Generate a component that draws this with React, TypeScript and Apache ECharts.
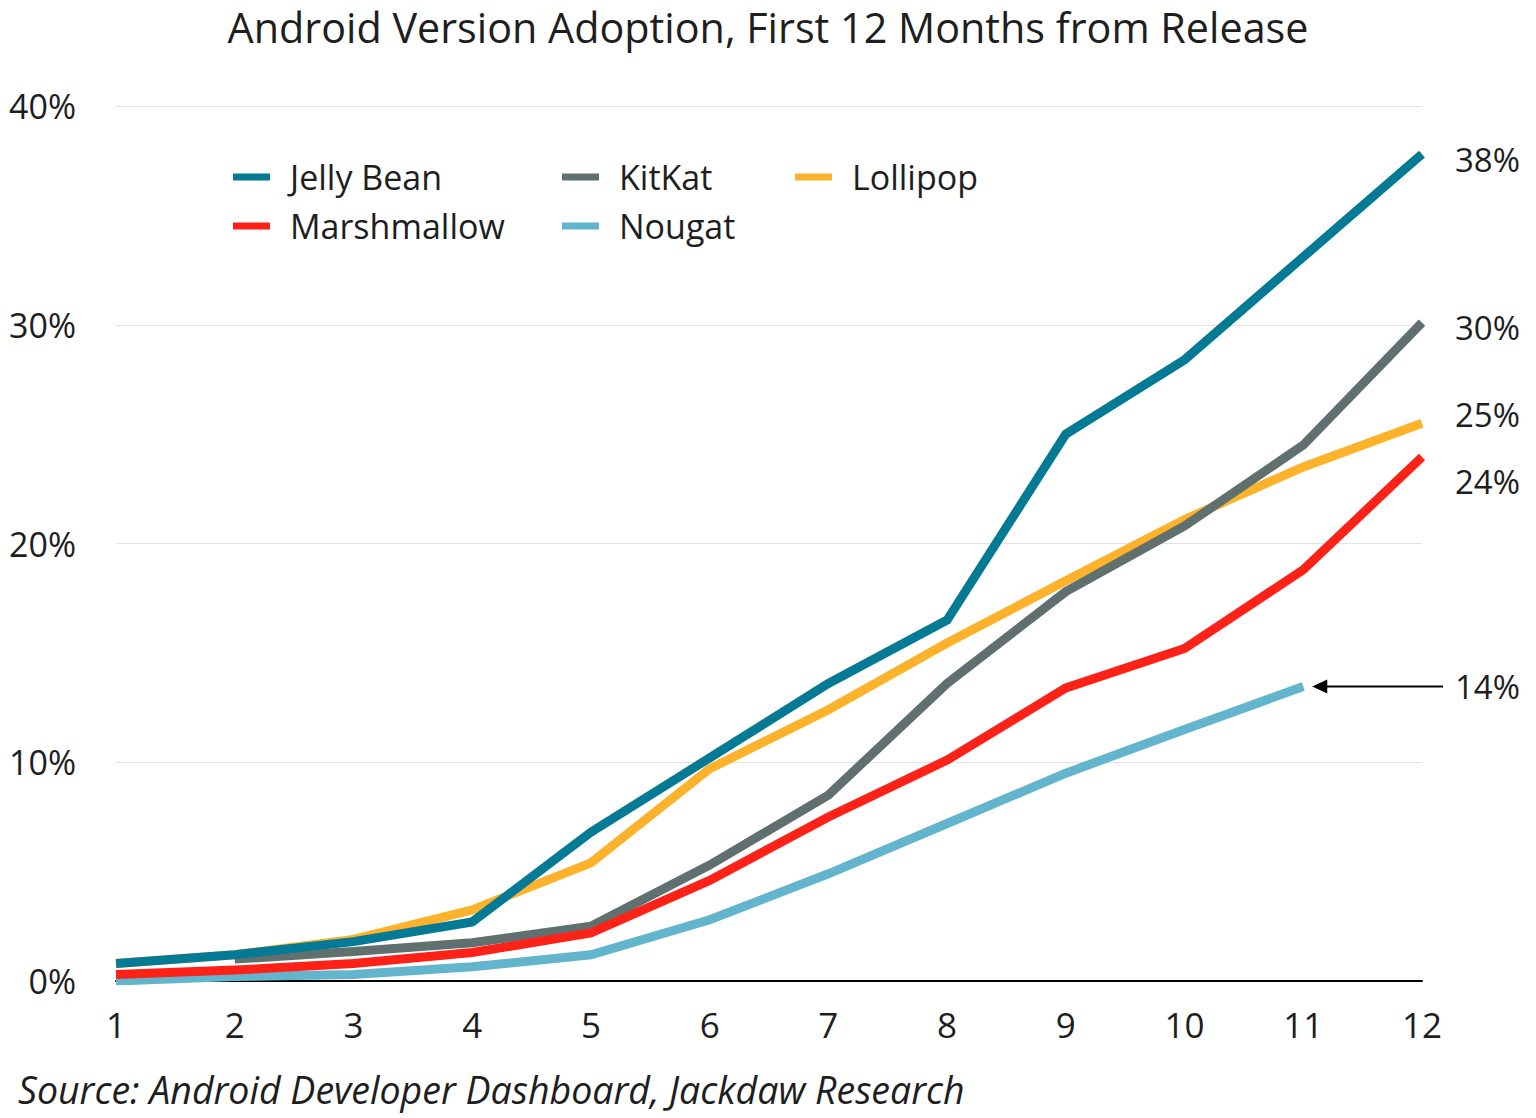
import React, { useEffect, useRef } from "react";
import * as echarts from "echarts";

const months = ["1", "2", "3", "4", "5", "6", "7", "8", "9", "10", "11", "12"];
const jellyBean = [0.8, 1.2, 1.8, 2.7, 6.8, 10.2, 13.6, 16.5, 25.0, 28.4, 33.1, 37.8];
const kitKat = [null, 1.0, 1.35, 1.75, 2.5, 5.3, 8.5, 13.6, 17.8, 20.8, 24.5, 30.1];
const lollipop = [0.8, 1.2, 1.9, 3.25, 5.4, 9.7, 12.4, 15.45, 18.3, 21.1, 23.5, 25.5];
const marshmallow = [0.3, 0.5, 0.8, 1.3, 2.2, 4.6, 7.5, 10.1, 13.4, 15.2, 18.8, 23.95];
const nougat = [0, 0.2, 0.3, 0.65, 1.2, 2.8, 4.9, 7.2, 9.5, 11.5, 13.46, null];

const endLabels = { jellyBean: "38%", kitKat: "30%", lollipop: "25%", marshmallow: "24%", nougat: "14%" };
const yTicks = [0, 10, 20, 30, 40];

const FONT = "'Open Sans', Lato, sans-serif";
const TXT = "#1e1e1e";

export default function App() {
  const ref = useRef<HTMLDivElement>(null);
  useEffect(() => {
    document.body.style.margin = "0";
    const chart = echarts.init(ref.current!, null, { renderer: "svg" });
    const mkSeries = (name: string, data: any[], color: string, label: string | null, offset: number[]) => ({
      name,
      type: "line",
      data,
      showSymbol: false,
      symbol: "none",
      lineStyle: { width: 9, color, cap: "butt", join: "miter" },
      itemStyle: { color },
      emphasis: { disabled: true },
      endLabel: label
        ? {
            show: true,
            formatter: () => label,
            distance: 33,
            offset,
            color: TXT,
            fontFamily: FONT,
            fontSize: 33,
          }
        : { show: false },
    });
    chart.setOption({
      animation: false,
      title: {
        text: "Android Version Adoption, First 12 Months from Release",
        left: "center",
        top: 1,
        textStyle: { fontFamily: FONT, fontSize: 41.3, fontWeight: "normal", color: TXT },
      },
      grid: { left: 116, right: 114, top: 106, bottom: 137, containLabel: false },
      legend: [
        { data: ["Jelly Bean", "Marshmallow"], left: 228 },
        { data: ["KitKat", "Nougat"], left: 557 },
        { data: ["Lollipop"], left: 790 },
      ].map((l) => ({
        ...l,
        top: 154,
        orient: "vertical",
        icon: "rect",
        itemWidth: 37,
        itemHeight: 7,
        itemGap: 13,
        selectedMode: false,
        textStyle: { fontFamily: FONT, fontSize: 34, color: TXT, lineHeight: 36, padding: [0, 0, 0, 15] },
      })),
      xAxis: {
        type: "category",
        data: months,
        boundaryGap: false,
        axisLine: { lineStyle: { color: "#000", width: 2 } },
        axisTick: { show: false },
        axisLabel: { fontFamily: FONT, fontSize: 35, color: TXT, margin: 26 },
        splitLine: { show: false },
      },
      yAxis: {
        type: "value",
        min: yTicks[0],
        max: yTicks[yTicks.length - 1],
        interval: 10,
        axisLine: { show: false },
        axisTick: { show: false },
        axisLabel: { formatter: "{value}%", fontFamily: FONT, fontSize: 34, color: TXT, margin: 40 },
        splitLine: { lineStyle: { color: "#e3e3e3", width: 1 } },
      },
      series: [
        mkSeries("Lollipop", lollipop, "#FDB22B", endLabels.lollipop, [0, -9]),
        mkSeries("KitKat", kitKat, "#5F706E", endLabels.kitKat, [0, 5]),
        mkSeries("Nougat", nougat, "#62B5CC", null, [0, 0]),
        mkSeries("Marshmallow", marshmallow, "#FD2218", endLabels.marshmallow, [0, 24]),
        mkSeries("Jelly Bean", jellyBean, "#047A94", endLabels.jellyBean, [0, 5]),
      ],
    });

    const lastIdx = 10;
    const nVal = nougat[lastIdx] as number;
    const pEnd = chart.convertToPixel({ gridIndex: 0 }, [lastIdx, nVal]) as number[];
    const pRight = chart.convertToPixel({ gridIndex: 0 }, [months.length - 1, nVal]) as number[];
    const y = pEnd[1];
    const headX = pEnd[0] + 9;
    chart.setOption({
      graphic: [
        {
          type: "line",
          shape: { x1: headX + 10, y1: y, x2: pRight[0] + 21, y2: y },
          style: { stroke: "#000", lineWidth: 2 },
        },
        {
          type: "polygon",
          shape: { points: [[headX, y], [headX + 15, y - 7], [headX + 15, y + 7]] },
          style: { fill: "#000" },
        },
        {
          type: "text",
          x: pRight[0] + 33,
          y: y,
          style: {
            text: endLabels.nougat,
            fontFamily: FONT,
            fontSize: 33,
            fill: TXT,
            verticalAlign: "middle",
            align: "left",
          },
        },
        {
          type: "text",
          x: 18,
          y: 1089,
          style: {
            text: "Source: Android Developer Dashboard, Jackdaw Research",
            fontFamily: FONT,
            fontStyle: "italic",
            fontSize: 37.5,
            fill: TXT,
            verticalAlign: "middle",
            align: "left",
          },
        },
      ],
    });
    return () => chart.dispose();
  }, []);
  return <div ref={ref} style={{ width: 1536, height: 1118 }} />;
}
